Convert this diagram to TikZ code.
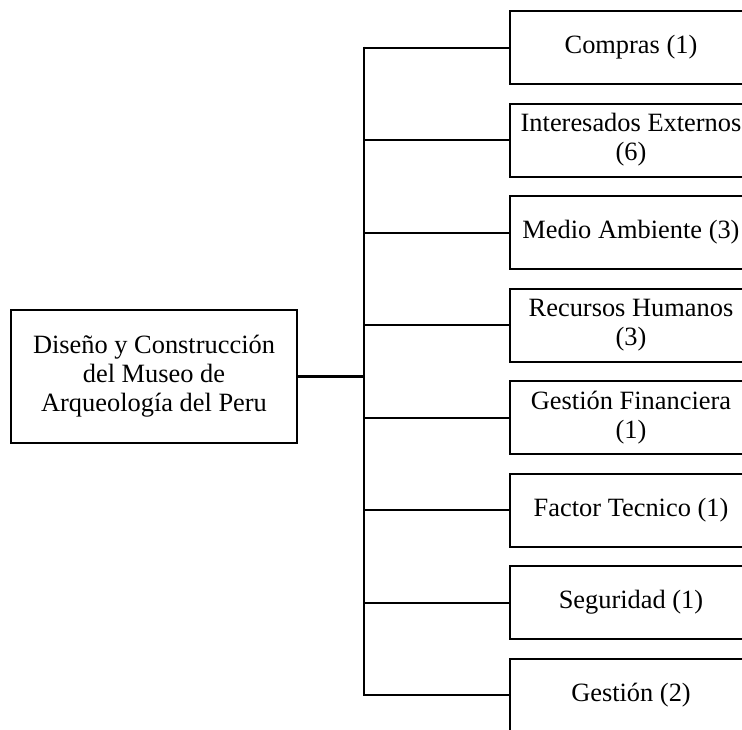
\documentclass[tikz,border=0pt]{standalone}
\usepackage{fontspec}
\setmainfont{Liberation Serif}
\begin{document}
\begin{tikzpicture}[x=1pt,y=-1pt,
  txt/.style={font=\fontsize{26.4}{29}\selectfont, align=center},
  mainbox/.style={draw, line width=2pt, txt, minimum width=286pt, minimum height=133pt, inner sep=0pt},
  leafbox/.style={draw, line width=2pt, txt, minimum width=242pt, minimum height=73pt, inner sep=0pt, anchor=west},
  link/.style={line width=2pt},
  trunk/.style={line width=3pt}]
\useasboundingbox (0,0) rectangle (742,729);
\clip (0,0) rectangle (742,729);
\fill[white] (0,0) rectangle (742,729);

% root
\node[mainbox] (root) at (154,376) {Diseño y Construcción\\del Museo de\\Arqueología del Peru};

% branches
\node[leafbox] (c1) at (509,47.5) {Compras (1)};
\node[leafbox] (c2) at (509,140) {Interesados Externos\\(6)};
\node[leafbox] (c3) at (509,232.5) {Medio Ambiente (3)};
\node[leafbox] (c4) at (509,325) {Recursos Humanos\\(3)};
\node[leafbox] (c5) at (509,417.5) {Gestión Financiera\\(1)};
\node[leafbox] (c6) at (509,510) {Factor Tecnico (1)};
\node[leafbox] (c7) at (509,602.5) {Seguridad (1)};
\node[leafbox] (c8) at (509,695) {Gestión (2)};

% vertical bus
\foreach \i/\y in {1/47.5,2/140,3/232.5,4/325,5/417.5,6/510,7/602.5,8/695}
  \coordinate (b\i) at (364,\y);
\coordinate (bm) at (364,376);
\draw[link] ([yshift=1pt]b1) -- ([yshift=-1pt]b8);
\foreach \i in {1,...,8}
  \draw[link] (b\i) -- (c\i.west);
\draw[trunk] (root.east) -- (bm);
\end{tikzpicture}
\end{document}
